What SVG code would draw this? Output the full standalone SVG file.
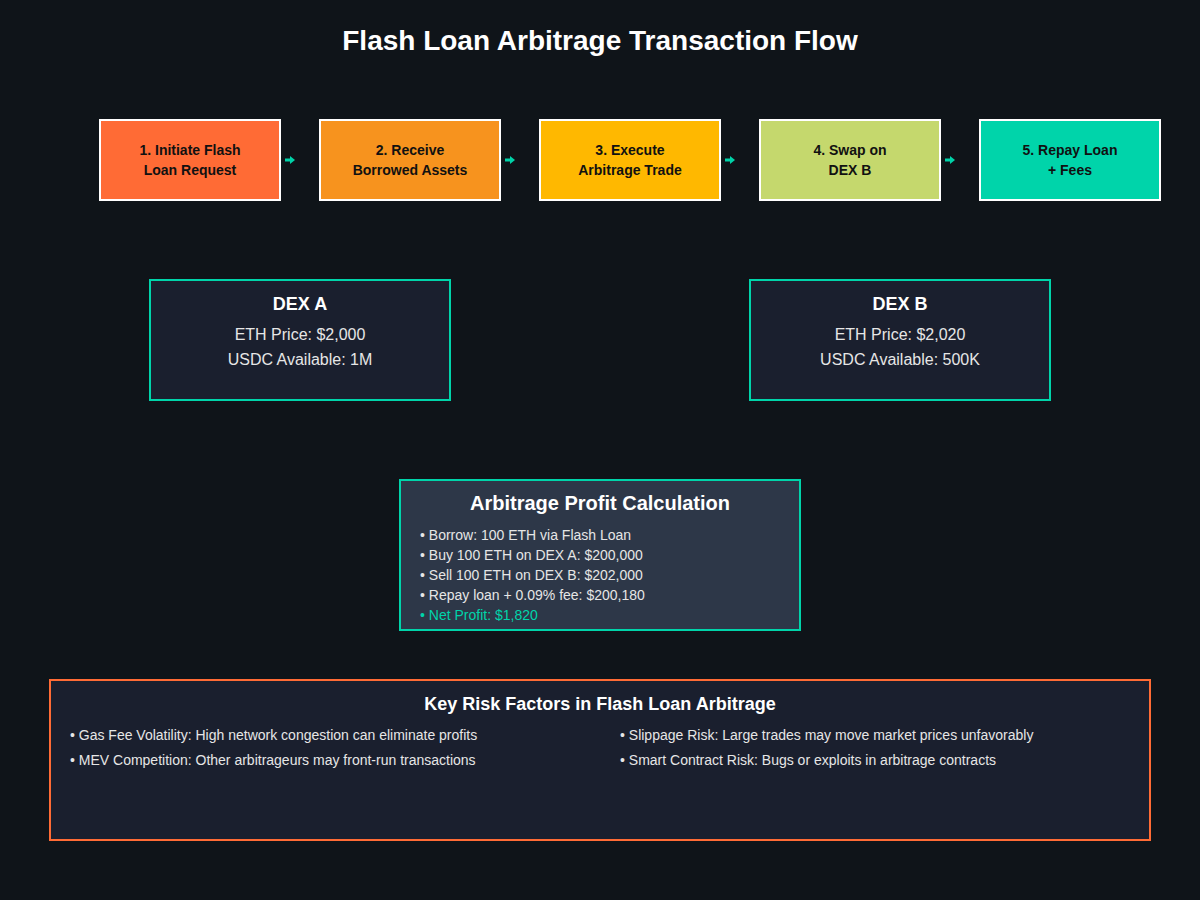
<svg xmlns="http://www.w3.org/2000/svg" width="1200" height="900" viewBox="0 0 1200 900">
<style>
text{font-family:"Liberation Sans",Arial,sans-serif}
.title{font-size:28px;font-weight:bold;fill:#fff}
.step{stroke:#fff;stroke-width:2}
.st{font-size:14px;font-weight:bold;fill:#111}
.dex{fill:#1a1f2e;stroke:#00D4AA;stroke-width:2}
.dh{font-size:18px;font-weight:bold;fill:#fff}
.dt{font-size:16px;fill:#e6e6e6}
.pt{font-size:14px;fill:#e6e6e6}
.conn{stroke:#00D4AA;stroke-width:3}
</style>
<defs>
<marker id="ah" markerWidth="6" markerHeight="10" refX="0" refY="5" orient="auto" markerUnits="userSpaceOnUse">
<path d="M0,1 L5,5 L0,9 z" fill="#00D4AA"/>
</marker>
</defs>
<rect width="1200" height="900" fill="#0f1419"/>
<text x="600" y="50" text-anchor="middle" class="title">Flash Loan Arbitrage Transaction Flow</text>
<g id="step1"><rect x="100" y="120" width="180" height="80" fill="#FF6B35" class="step"/><text x="190" y="155" text-anchor="middle" class="st">1. Initiate Flash</text><text x="190" y="175" text-anchor="middle" class="st">Loan Request</text></g>
<g id="step2"><rect x="320" y="120" width="180" height="80" fill="#F7931E" class="step"/><text x="410" y="155" text-anchor="middle" class="st">2. Receive</text><text x="410" y="175" text-anchor="middle" class="st">Borrowed Assets</text></g>
<g id="step3"><rect x="540" y="120" width="180" height="80" fill="#FFB800" class="step"/><text x="630" y="155" text-anchor="middle" class="st">3. Execute</text><text x="630" y="175" text-anchor="middle" class="st">Arbitrage Trade</text></g>
<g id="step4"><rect x="760" y="120" width="180" height="80" fill="#C5D86D" class="step"/><text x="850" y="155" text-anchor="middle" class="st">4. Swap on</text><text x="850" y="175" text-anchor="middle" class="st">DEX B</text></g>
<g id="step5"><rect x="980" y="120" width="180" height="80" fill="#00D4AA" class="step"/><text x="1070" y="155" text-anchor="middle" class="st">5. Repay Loan</text><text x="1070" y="175" text-anchor="middle" class="st">+ Fees</text></g>
<g id="connectors">
<line x1="285" y1="160" x2="290" y2="160" class="conn" marker-end="url(#ah)"/>
<line x1="505" y1="160" x2="510" y2="160" class="conn" marker-end="url(#ah)"/>
<line x1="725" y1="160" x2="730" y2="160" class="conn" marker-end="url(#ah)"/>
<line x1="945" y1="160" x2="950" y2="160" class="conn" marker-end="url(#ah)"/>
</g>
<g id="dexA"><rect x="150" y="280" width="300" height="120" class="dex"/><text x="300" y="310" text-anchor="middle" class="dh">DEX A</text><text x="300" y="340" text-anchor="middle" class="dt">ETH Price: $2,000</text><text x="300" y="365" text-anchor="middle" class="dt">USDC Available: 1M</text></g>
<g id="dexB"><rect x="750" y="280" width="300" height="120" class="dex"/><text x="900" y="310" text-anchor="middle" class="dh">DEX B</text><text x="900" y="340" text-anchor="middle" class="dt">ETH Price: $2,020</text><text x="900" y="365" text-anchor="middle" class="dt">USDC Available: 500K</text></g>
<g id="profit"><rect x="400" y="480" width="400" height="150" fill="#2d3748" stroke="#00D4AA" stroke-width="2"/>
<text x="600" y="510" text-anchor="middle" font-size="20" font-weight="bold" fill="#fff">Arbitrage Profit Calculation</text>
<text x="420" y="540" class="pt">• Borrow: 100 ETH via Flash Loan</text>
<text x="420" y="560" class="pt">• Buy 100 ETH on DEX A: $200,000</text>
<text x="420" y="580" class="pt">• Sell 100 ETH on DEX B: $202,000</text>
<text x="420" y="600" class="pt">• Repay loan + 0.09% fee: $200,180</text>
<text x="420" y="620" class="pt" style="fill:#00D4AA">• Net Profit: $1,820</text></g>
<g id="risks"><rect x="50" y="680" width="1100" height="160" fill="#1a1f2e" stroke="#FF6B35" stroke-width="2"/>
<text x="600" y="710" text-anchor="middle" font-size="18" font-weight="bold" fill="#fff">Key Risk Factors in Flash Loan Arbitrage</text>
<text x="70" y="740" class="pt">• Gas Fee Volatility: High network congestion can eliminate profits</text>
<text x="70" y="765" class="pt">• MEV Competition: Other arbitrageurs may front-run transactions</text>
<text x="620" y="740" class="pt">• Slippage Risk: Large trades may move market prices unfavorably</text>
<text x="620" y="765" class="pt">• Smart Contract Risk: Bugs or exploits in arbitrage contracts</text></g>
</svg>
